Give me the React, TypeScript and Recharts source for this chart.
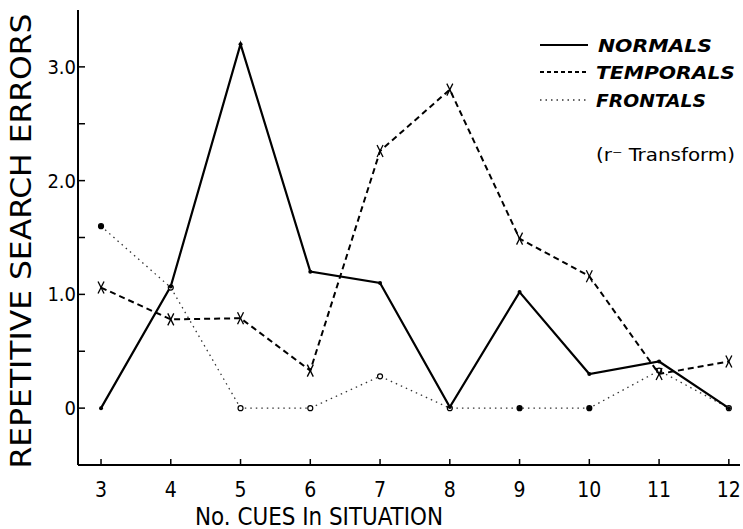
import { LineChart, Line, XAxis, YAxis } from "recharts";

// No. of cues in the situation
const cues = [3, 4, 5, 6, 7, 8, 9, 10, 11, 12];

// repetitive search errors (r transform)
const normals = [0, 1.07, 3.2, 1.2, 1.1, 0.01, 1.02, 0.3, 0.41, 0];
const temporals = [1.06, 0.78, 0.79, 0.33, 2.26, 2.8, 1.49, 1.16, 0.3, 0.41];
const frontals = [1.6, 1.06, 0, 0, 0.28, 0, 0, 0, 0.33, 0];

const yTicks = [0, 0.5, 1, 1.5, 2, 2.5, 3];

const data = cues.map((c, i) => ({
  cue: c,
  normals: normals[i],
  temporals: temporals[i],
  frontals: frontals[i],
}));

const font = "'DejaVu Sans Condensed', 'Liberation Sans Narrow', 'DejaVu Sans', sans-serif";

const YTick = (props: any) => {
  const { x, y, payload } = props;
  const v = payload.value;
  const major = Number.isInteger(v);
  return (
    <g>
      <line x1={x} y1={y} x2={x + 7} y2={y} stroke="#000" strokeWidth={1.5} />
      {major && (
        <text
          x={x - 2}
          y={y}
          textAnchor="end"
          dominantBaseline="central"
          fontSize={20}
          fontFamily={font}
          fill="#000"
        >
          {v === 0 ? "0" : v.toFixed(1)}
        </text>
      )}
    </g>
  );
};

const XTick = (props: any) => {
  const { x, y, payload } = props;
  return (
    <g>
      <line x1={x} y1={y} x2={x} y2={y - 6} stroke="#000" strokeWidth={1.5} />
      <text x={x} y={y + 25} textAnchor="middle" dominantBaseline="central" fontSize={21} fontFamily={font} fill="#000">
        {payload.value}
      </text>
    </g>
  );
};

const TopTick = (props: any) => {
  const { x, y } = props;
  return <line x1={x} y1={y} x2={x} y2={y + 6} stroke="#000" strokeWidth={1.5} />;
};

const NormalDot = (props: any) => {
  const { cx, cy } = props;
  return <circle cx={cx} cy={cy} r={2} fill="#000" />;
};

const TemporalDot = (props: any) => {
  const { cx, cy } = props;
  return (
    <g stroke="#000" strokeWidth={1.3}>
      <line x1={cx - 3} y1={cy - 6} x2={cx + 3} y2={cy + 6} />
      <line x1={cx + 3} y1={cy - 6} x2={cx - 3} y2={cy + 6} />
    </g>
  );
};

const FrontalDot = (props: any) => {
  const { cx, cy, index } = props;
  const filled = index === 0 || index === 6 || index === 7;
  return <circle cx={cx} cy={cy} r={2.5} fill={filled ? "#000" : "#fff"} stroke="#000" strokeWidth={1.2} />;
};

export default function App() {
  return (
    <div style={{ position: "absolute", left: 0, top: 0, width: 743, height: 529, background: "#fff" }}>
      <LineChart width={743} height={529} data={data} margin={{ top: 10, right: 3, bottom: 0, left: 38 }}>
        <XAxis
          dataKey="cue"
          type="number"
          domain={[2.67, 12.16]}
          ticks={cues}
          allowDataOverflow
          height={64}
          tickSize={0}
          tickMargin={0}
          tickLine={false}
          tick={<XTick />}
          axisLine={{ stroke: "#000", strokeWidth: 2 }}
        />
        <XAxis
          xAxisId="top"
          orientation="top"
          dataKey="cue"
          type="number"
          domain={[2.67, 12.16]}
          ticks={cues}
          allowDataOverflow
          height={0}
          tickSize={0}
          tickMargin={0}
          tickLine={false}
          tick={<TopTick />}
          axisLine={{ stroke: "#000", strokeWidth: 2 }}
        />
        <YAxis
          type="number"
          domain={[-0.5, 3.5]}
          ticks={yTicks}
          width={40}
          tickSize={0}
          tickMargin={0}
          tickLine={false}
          tick={<YTick />}
          axisLine={{ stroke: "#000", strokeWidth: 2 }}
        />
        <Line
          dataKey="frontals"
          type="linear"
          stroke="#333"
          strokeWidth={1.3}
          strokeDasharray="1.5 4"
          dot={<FrontalDot />}
          isAnimationActive={false}
        />
        <Line
          dataKey="temporals"
          type="linear"
          stroke="#000"
          strokeWidth={2}
          strokeDasharray="6 4"
          dot={<TemporalDot />}
          isAnimationActive={false}
        />
        <Line
          dataKey="normals"
          type="linear"
          stroke="#000"
          strokeWidth={2.2}
          dot={<NormalDot />}
          isAnimationActive={false}
        />
      </LineChart>
      <svg
        width={743}
        height={529}
        style={{ position: "absolute", left: 0, top: 0, pointerEvents: "none" }}
        fontFamily={font}
      >
        <text
          x={21}
          y={241}
          transform="rotate(-90 21 241)"
          textAnchor="middle"
          dominantBaseline="central"
          fontSize={29}
          textLength={455}
          lengthAdjust="spacingAndGlyphs"
        >
          REPETITIVE SEARCH ERRORS
        </text>
        <text x={319} y={516} textAnchor="middle" dominantBaseline="central" fontSize={25} textLength={248} lengthAdjust="spacingAndGlyphs">
          No. CUES In SITUATION
        </text>
        {/* legend */}
        <line x1={540} y1={45} x2={588} y2={45} stroke="#000" strokeWidth={2} />
        <line x1={540} y1={72} x2={588} y2={72} stroke="#000" strokeWidth={2} strokeDasharray="4 3" />
        <line x1={540} y1={100} x2={588} y2={100} stroke="#333" strokeWidth={1.3} strokeDasharray="1.5 4" />
        <g fontStyle="italic" fontWeight="bold" fontSize={18} dominantBaseline="central">
          <text x={598} y={45} textLength={114} lengthAdjust="spacingAndGlyphs">NORMALS</text>
          <text x={596} y={72} textLength={139} lengthAdjust="spacingAndGlyphs">TEMPORALS</text>
          <text x={596} y={100} textLength={110} lengthAdjust="spacingAndGlyphs">FRONTALS</text>
        </g>
        <text x={596} y={155} fontSize={17} dominantBaseline="central" textLength={139} lengthAdjust="spacingAndGlyphs">
          (r⁻ Transform)
        </text>
      </svg>
    </div>
  );
}
